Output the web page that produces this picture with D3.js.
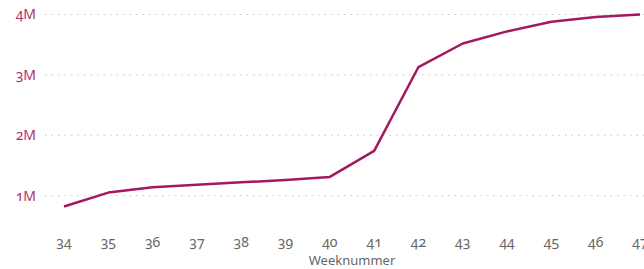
<!DOCTYPE html>
<html>
<head>
<meta charset="utf-8">
<script src="https://cdn.jsdelivr.net/npm/d3@7"></script>
<style>
  body { margin: 0; background: #fff; }
  svg text { font-family: "Noto Sans", "Open Sans", sans-serif; font-variant-numeric: oldstyle-nums; font-feature-settings: "onum" 1; }
</style>
</head>
<body>
<svg id="chart" width="644" height="269"></svg>
<script>
const weeks = [34, 35, 36, 37, 38, 39, 40, 41, 42, 43, 44, 45, 46, 47];
const values = [0.82, 1.05, 1.14, 1.18, 1.22, 1.26, 1.31, 1.74, 3.13, 3.52, 3.72, 3.88, 3.96, 4.0].map(v => v * 1e6);
const yTicks = [1e6, 2e6, 3e6, 4e6];

const svg = d3.select("#chart");
const lineColor = "#a3185e";

const x = d3.scaleLinear().domain([34, 47]).range([64, 640]);
const y = d3.scaleLinear().domain([0, 4e6]).range([256, 14.5]);

// grid
svg.append("g")
  .selectAll("line")
  .data(yTicks)
  .enter()
  .append("line")
  .attr("x1", 45)
  .attr("x2", 644)
  .attr("y1", d => y(d))
  .attr("y2", d => y(d))
  .attr("stroke", "#c8c8c8")
  .attr("stroke-width", 1)
  .attr("stroke-dasharray", "1.5,5");

// y labels
svg.append("g")
  .selectAll("text")
  .data(yTicks)
  .enter()
  .append("text")
  .attr("x", 36)
  .attr("y", d => y(d))
  .attr("dy", "0.35em")
  .attr("text-anchor", "end")
  .attr("fill", "#b0306e")
  .attr("font-size", 14)
  .text(d => (d / 1e6) + "M");

// x labels
svg.append("g")
  .selectAll("text")
  .data(weeks)
  .enter()
  .append("text")
  .attr("x", d => x(d))
  .attr("y", 247)
  .attr("text-anchor", "middle")
  .attr("fill", "#666")
  .attr("font-size", 14)
  .text(d => d);

svg.append("text")
  .attr("x", 352)
  .attr("y", 265)
  .attr("text-anchor", "middle")
  .attr("fill", "#666")
  .attr("font-size", 13)
  .text("Weeknummer");

const line = d3.line()
  .x((d, i) => x(weeks[i]))
  .y(d => y(d));

svg.append("path")
  .datum(values)
  .attr("d", line)
  .attr("fill", "none")
  .attr("stroke", lineColor)
  .attr("stroke-width", 2.5)
  .attr("stroke-linejoin", "round");
</script>
</body>
</html>
